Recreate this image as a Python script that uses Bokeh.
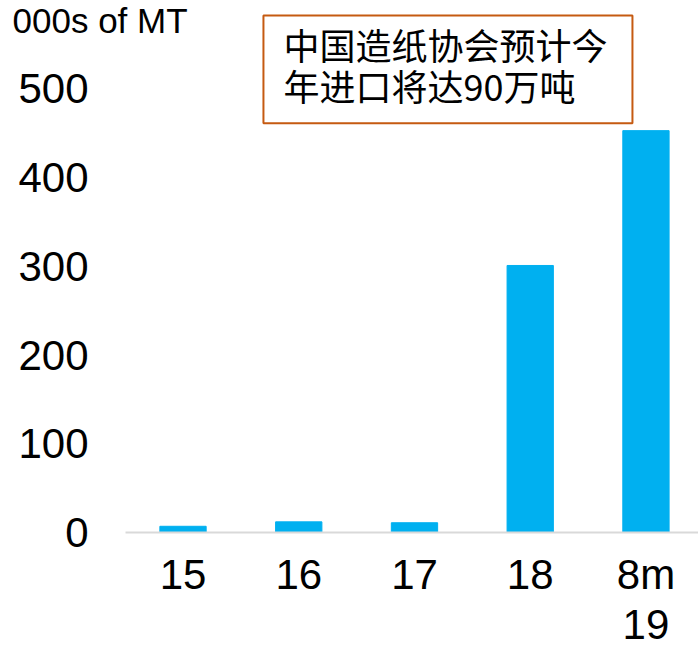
from bokeh.plotting import figure
from bokeh.models import Range1d, FixedTicker, Label
from bokeh.embed import file_html
from bokeh.resources import INLINE

categories = ["15", "16", "17", "18", "8m\n19"]
values = [7, 12, 11, 301, 453]
y_ticks = [0, 100, 200, 300, 400, 500]
unit_label = "000s of MT"
note = "中国造纸协会预计今\n年进口将达90万吨"

xs = list(range(len(categories)))

p = figure(width=698, height=650, output_backend="svg", toolbar_location=None,
           x_range=Range1d(-1.577, 4.454), y_range=Range1d(0, 599.7),
           min_border_left=0, min_border_right=0, min_border_top=0, min_border_bottom=0)

p.vbar(x=xs, top=values, width=0.4, color="#00B0F0")

p.outline_line_color = None
p.xgrid.grid_line_color = None
p.ygrid.grid_line_color = None

xa = p.xaxis[0]
xa.ticker = FixedTicker(ticks=xs)
xa.bounds = (-0.497, 4.454)
xa.major_label_overrides = {i: c for i, c in zip(xs, categories)}
xa.axis_line_color = "#D9D9D9"
xa.axis_line_width = 2
xa.major_tick_line_color = None
xa.minor_tick_line_color = None
xa.major_label_text_font = "Liberation Sans"
xa.major_label_text_font_size = "42px"
xa.major_label_text_line_height = 1.066
xa.major_label_text_color = "black"
xa.major_label_standoff = 12

ya = p.yaxis[0]
ya.ticker = FixedTicker(ticks=y_ticks)
ya.axis_line_color = None
ya.major_tick_line_color = None
ya.minor_tick_line_color = None
ya.major_label_text_font = "Liberation Sans"
ya.major_label_text_font_size = "42px"
ya.major_label_text_color = "black"
ya.major_label_standoff = -94

p.add_layout(Label(x=-1.473, y=577, text=unit_label, text_font="Liberation Sans",
                   text_font_size="35px", text_color="black", text_baseline="alphabetic"))

p.add_layout(Label(x=0.695, y=582.7, text=note, text_font="Noto Sans CJK SC",
                   text_font_size="36px", text_color="black", anchor="top_left",
                   text_line_height=0.80,
                   padding=dict(left=20, right=25, top=2, bottom=12),
                   border_line_color="#C55A11", border_line_width=2,
                   background_fill_color="white"))

open("out.html", "w").write(file_html(p, INLINE))
